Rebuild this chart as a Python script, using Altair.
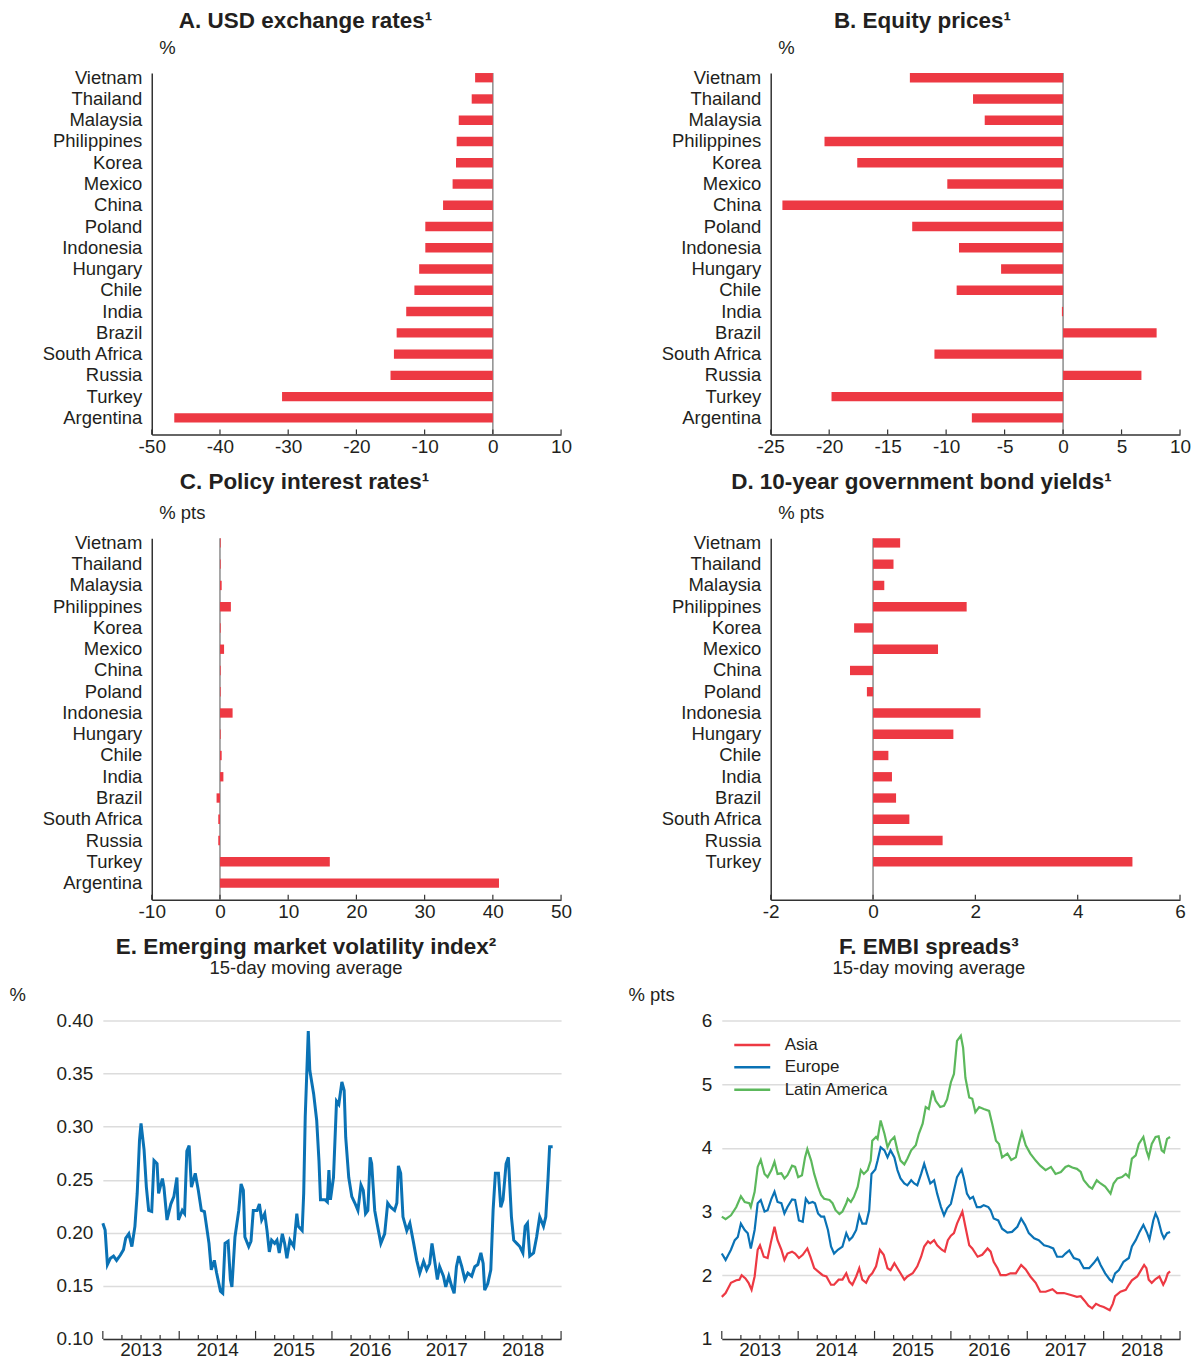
import altair as alt
import pandas as pd

FONT = "Liberation Sans"
TXT = "#231f20"
RED = "#ed3943"
BLUE = "#0a72b5"
GREEN = "#5cb85c"
AXC = "#333333"

# ---------------- bar panels data ----------------
countries = ["Vietnam", "Thailand", "Malaysia", "Philippines", "Korea", "Mexico", "China",
             "Poland", "Indonesia", "Hungary", "Chile", "India", "Brazil", "South Africa",
             "Russia", "Turkey", "Argentina"]
usd_fx = [-2.6, -3.1, -5.0, -5.3, -5.4, -5.9, -7.3, -9.9, -9.9, -10.8, -11.5, -12.7,
          -14.1, -14.5, -15.0, -30.9, -46.7]
equity = [-13.1, -7.7, -6.7, -20.4, -17.6, -9.9, -24.0, -12.9, -8.9, -5.3, -9.1, -0.1,
          8.0, -11.0, 6.7, -19.8, -7.8]
policy = [0.1, 0.1, 0.25, 1.6, 0.1, 0.6, 0.1, 0.1, 1.85, 0.1, 0.25, 0.5, -0.5, -0.25,
          -0.25, 16.1, 40.9]
bond10y = [0.53, 0.40, 0.22, 1.83, -0.37, 1.27, -0.45, -0.12, 2.10, 1.57, 0.30, 0.37,
           0.45, 0.71, 1.36, 5.07, None]

ticks_a = [-50, -40, -30, -20, -10, 0, 10]
ticks_b = [-25, -20, -15, -10, -5, 0, 5, 10]
ticks_c = [-10, 0, 10, 20, 30, 40, 50]
ticks_d = [-2, 0, 2, 4, 6]

# ---------------- E: EM volatility index ----------------
e_year = [2013.00, 2013.03, 2013.06, 2013.10, 2013.14, 2013.18, 2013.23, 2013.27, 2013.30, 2013.34,
          2013.38, 2013.42, 2013.45, 2013.48, 2013.50, 2013.54, 2013.57, 2013.60, 2013.64, 2013.67,
          2013.71, 2013.73, 2013.78, 2013.80, 2013.84, 2013.89, 2013.93, 2013.97, 2013.99, 2014.04,
          2014.07, 2014.10, 2014.13, 2014.16, 2014.21, 2014.25, 2014.29, 2014.33, 2014.39, 2014.42,
          2014.46, 2014.49, 2014.54, 2014.57, 2014.60, 2014.64, 2014.67, 2014.69, 2014.73, 2014.78,
          2014.81, 2014.84, 2014.86, 2014.91, 2014.94, 2014.97, 2015.02, 2015.05, 2015.08, 2015.12,
          2015.15, 2015.18, 2015.21, 2015.25, 2015.28, 2015.31, 2015.35, 2015.38, 2015.41, 2015.45,
          2015.50, 2015.54, 2015.56, 2015.61, 2015.63, 2015.65, 2015.69, 2015.71, 2015.76, 2015.80,
          2015.83, 2015.85, 2015.91, 2015.94, 2015.96, 2015.98, 2016.02, 2016.06, 2016.09, 2016.13,
          2016.16, 2016.18, 2016.22, 2016.26, 2016.30, 2016.34, 2016.38, 2016.41, 2016.44, 2016.47,
          2016.50, 2016.52, 2016.56, 2016.59, 2016.64, 2016.69, 2016.73, 2016.77, 2016.82, 2016.85,
          2016.87, 2016.90, 2016.93, 2016.98, 2017.02, 2017.07, 2017.11, 2017.15, 2017.20, 2017.24,
          2017.28, 2017.31, 2017.35, 2017.38, 2017.41, 2017.46, 2017.49, 2017.53, 2017.57, 2017.60,
          2017.63, 2017.66, 2017.70, 2017.74, 2017.78, 2017.83, 2017.87, 2017.91, 2017.95, 2017.98,
          2018.00, 2018.04, 2018.08, 2018.11, 2018.14, 2018.18, 2018.21, 2018.24, 2018.28, 2018.31,
          2018.35, 2018.38, 2018.42, 2018.46, 2018.50, 2018.53, 2018.56, 2018.59, 2018.64, 2018.68,
          2018.72, 2018.77, 2018.80, 2018.83, 2018.85, 2018.89]
e_val = [0.209, 0.2025, 0.170, 0.176, 0.178, 0.174, 0.179, 0.184, 0.195, 0.199,
         0.187, 0.206, 0.237, 0.287, 0.303, 0.278, 0.243, 0.221, 0.220, 0.268,
         0.265, 0.237, 0.251, 0.243, 0.212, 0.227, 0.234, 0.252, 0.212, 0.221,
         0.218, 0.277, 0.282, 0.243, 0.256, 0.240, 0.221, 0.220, 0.190, 0.165,
         0.174, 0.162, 0.145, 0.143, 0.190, 0.192, 0.156, 0.149, 0.196, 0.221,
         0.246, 0.240, 0.196, 0.187, 0.192, 0.221, 0.221, 0.227, 0.212, 0.218,
         0.202, 0.182, 0.193, 0.190, 0.193, 0.181, 0.199, 0.190, 0.176, 0.193,
         0.187, 0.218, 0.206, 0.202, 0.237, 0.309, 0.390, 0.353, 0.331, 0.306,
         0.268, 0.231, 0.231, 0.229, 0.259, 0.231, 0.252, 0.324, 0.321, 0.342,
         0.334, 0.290, 0.252, 0.234, 0.228, 0.221, 0.245, 0.240, 0.218, 0.221,
         0.271, 0.265, 0.221, 0.209, 0.190, 0.199, 0.228, 0.224, 0.221, 0.228,
         0.263, 0.256, 0.215, 0.202, 0.209, 0.190, 0.174, 0.162, 0.173, 0.165,
         0.171, 0.190, 0.171, 0.156, 0.168, 0.159, 0.149, 0.159, 0.149, 0.143,
         0.168, 0.178, 0.168, 0.156, 0.162, 0.159, 0.168, 0.170, 0.181, 0.171,
         0.146, 0.152, 0.165, 0.221, 0.256, 0.256, 0.224, 0.231, 0.265, 0.271,
         0.215, 0.193, 0.190, 0.187, 0.181, 0.206, 0.209, 0.178, 0.181, 0.196,
         0.215, 0.206, 0.215, 0.252, 0.281, 0.281]

# ---------------- F: EMBI spreads ----------------
f_asia_year = [2013.00, 2013.05, 2013.12, 2013.19, 2013.23, 2013.26, 2013.31, 2013.35, 2013.39, 2013.43,
               2013.47, 2013.50, 2013.55, 2013.60, 2013.64, 2013.69, 2013.73, 2013.78, 2013.82, 2013.86,
               2013.92, 2013.96, 2014.01, 2014.06, 2014.12, 2014.16, 2014.21, 2014.26, 2014.32, 2014.37,
               2014.43, 2014.47, 2014.53, 2014.58, 2014.63, 2014.67, 2014.71, 2014.76, 2014.80, 2014.84,
               2014.89, 2014.93, 2014.97, 2015.02, 2015.07, 2015.12, 2015.17, 2015.21, 2015.26, 2015.30,
               2015.34, 2015.39, 2015.43, 2015.50, 2015.56, 2015.61, 2015.65, 2015.70, 2015.73, 2015.78,
               2015.82, 2015.88, 2015.92, 2015.96, 2016.00, 2016.04, 2016.08, 2016.15, 2016.19, 2016.24,
               2016.28, 2016.35, 2016.41, 2016.48, 2016.52, 2016.56, 2016.61, 2016.65, 2016.72, 2016.78,
               2016.85, 2016.92, 2016.98, 2017.04, 2017.11, 2017.17, 2017.24, 2017.33, 2017.39, 2017.48,
               2017.57, 2017.65, 2017.70, 2017.75, 2017.80, 2017.85, 2017.90, 2017.95, 2018.00, 2018.05,
               2018.08, 2018.12, 2018.15, 2018.22, 2018.29, 2018.33, 2018.37, 2018.44, 2018.48, 2018.53,
               2018.56, 2018.59, 2018.63, 2018.68, 2018.73, 2018.78, 2018.81, 2018.84, 2018.87]
f_asia_val = [1.66, 1.72, 1.88, 1.92, 1.93, 2.00, 1.95, 1.88, 1.77, 1.98,
              2.40, 2.47, 2.29, 2.27, 2.50, 2.76, 2.55, 2.40, 2.24, 2.34,
              2.37, 2.34, 2.27, 2.32, 2.42, 2.29, 2.11, 2.06, 2.00, 1.98,
              1.85, 1.85, 1.93, 1.93, 2.03, 1.90, 1.85, 1.98, 2.11, 1.93,
              1.88, 1.98, 2.03, 2.14, 2.40, 2.32, 2.11, 2.08, 2.19, 2.11,
              2.03, 1.93, 1.98, 2.03, 2.14, 2.29, 2.45, 2.53, 2.50, 2.55,
              2.47, 2.40, 2.37, 2.55, 2.62, 2.66, 2.81, 3.00, 2.76, 2.47,
              2.42, 2.29, 2.32, 2.42, 2.37, 2.21, 2.11, 2.00, 2.00, 2.03,
              2.03, 2.16, 2.09, 1.98, 1.88, 1.74, 1.74, 1.78, 1.72, 1.72,
              1.69, 1.66, 1.67, 1.60, 1.52, 1.48, 1.55, 1.52, 1.50, 1.47,
              1.45, 1.55, 1.67, 1.74, 1.77, 1.85, 1.92, 1.98, 2.06, 2.16,
              2.11, 1.93, 1.88, 1.94, 1.98, 1.85, 1.92, 2.03, 2.06]

f_eur_year = [2013.00, 2013.05, 2013.12, 2013.17, 2013.21, 2013.25, 2013.30, 2013.34, 2013.38, 2013.43,
              2013.47, 2013.51, 2013.56, 2013.60, 2013.65, 2013.69, 2013.73, 2013.78, 2013.82, 2013.86,
              2013.92, 2013.96, 2014.01, 2014.06, 2014.10, 2014.14, 2014.19, 2014.22, 2014.26, 2014.30,
              2014.34, 2014.39, 2014.43, 2014.47, 2014.52, 2014.58, 2014.63, 2014.67, 2014.71, 2014.76,
              2014.80, 2014.84, 2014.89, 2014.93, 2014.96, 2015.01, 2015.04, 2015.08, 2015.13, 2015.17,
              2015.21, 2015.26, 2015.30, 2015.34, 2015.39, 2015.43, 2015.48, 2015.52, 2015.56, 2015.61,
              2015.65, 2015.69, 2015.73, 2015.78, 2015.82, 2015.87, 2015.91, 2015.95, 2016.00, 2016.04,
              2016.08, 2016.14, 2016.17, 2016.21, 2016.25, 2016.29, 2016.34, 2016.39, 2016.43, 2016.49,
              2016.52, 2016.56, 2016.62, 2016.67, 2016.74, 2016.80, 2016.87, 2016.92, 2016.97, 2017.02,
              2017.09, 2017.15, 2017.22, 2017.28, 2017.34, 2017.39, 2017.46, 2017.50, 2017.55, 2017.61,
              2017.68, 2017.74, 2017.81, 2017.87, 2017.92, 2017.96, 2018.02, 2018.08, 2018.11, 2018.15,
              2018.20, 2018.26, 2018.33, 2018.37, 2018.42, 2018.47, 2018.52, 2018.57, 2018.60, 2018.65,
              2018.68, 2018.71, 2018.76, 2018.79, 2018.83, 2018.87]
f_eur_val = [2.34, 2.24, 2.40, 2.55, 2.60, 2.81, 2.71, 2.66, 2.42, 2.71,
             3.13, 3.18, 3.00, 3.02, 3.20, 3.31, 3.15, 3.13, 2.97, 3.07,
             3.19, 3.18, 2.86, 2.84, 3.20, 3.13, 3.15, 3.13, 2.97, 2.92,
             2.92, 2.71, 2.45, 2.34, 2.40, 2.45, 2.66, 2.55, 2.60, 2.71,
             2.94, 2.81, 2.81, 3.02, 3.59, 3.66, 3.80, 4.01, 3.96, 3.85,
             3.96, 3.85, 3.65, 3.52, 3.44, 3.41, 3.49, 3.44, 3.41, 3.59,
             3.75, 3.59, 3.44, 3.49, 3.28, 3.07, 2.94, 3.05, 3.12, 3.33,
             3.54, 3.66, 3.52, 3.28, 3.20, 3.23, 3.07, 3.07, 3.10, 3.07,
             3.02, 2.89, 2.86, 2.73, 2.67, 2.68, 2.76, 2.89, 2.79, 2.66,
             2.58, 2.55, 2.47, 2.45, 2.42, 2.29, 2.29, 2.34, 2.39, 2.27,
             2.24, 2.11, 2.11, 2.19, 2.27, 2.16, 2.03, 1.93, 1.90, 2.03,
             2.08, 2.21, 2.27, 2.45, 2.55, 2.68, 2.79, 2.66, 2.56, 2.86,
             2.97, 2.89, 2.66, 2.58, 2.66, 2.68]

f_lat_year = [2013.00, 2013.05, 2013.12, 2013.19, 2013.25, 2013.30, 2013.36, 2013.38, 2013.43, 2013.47,
              2013.51, 2013.56, 2013.60, 2013.65, 2013.69, 2013.73, 2013.78, 2013.82, 2013.86, 2013.92,
              2013.96, 2014.00, 2014.05, 2014.09, 2014.12, 2014.17, 2014.21, 2014.26, 2014.30, 2014.34,
              2014.41, 2014.45, 2014.49, 2014.54, 2014.58, 2014.63, 2014.65, 2014.69, 2014.73, 2014.78,
              2014.82, 2014.86, 2014.91, 2014.95, 2014.97, 2015.02, 2015.04, 2015.08, 2015.13, 2015.17,
              2015.21, 2015.26, 2015.30, 2015.34, 2015.39, 2015.43, 2015.48, 2015.54, 2015.58, 2015.63,
              2015.67, 2015.71, 2015.76, 2015.80, 2015.86, 2015.91, 2015.95, 2016.00, 2016.04, 2016.08,
              2016.13, 2016.16, 2016.19, 2016.24, 2016.28, 2016.32, 2016.37, 2016.43, 2016.50, 2016.54,
              2016.59, 2016.63, 2016.67, 2016.74, 2016.79, 2016.85, 2016.89, 2016.93, 2016.98, 2017.04,
              2017.11, 2017.17, 2017.24, 2017.31, 2017.37, 2017.44, 2017.50, 2017.54, 2017.59, 2017.65,
              2017.70, 2017.74, 2017.81, 2017.85, 2017.91, 2017.96, 2018.02, 2018.09, 2018.13, 2018.18,
              2018.24, 2018.29, 2018.33, 2018.37, 2018.42, 2018.46, 2018.52, 2018.56, 2018.59, 2018.63,
              2018.68, 2018.72, 2018.76, 2018.79, 2018.83, 2018.87]
f_lat_val = [2.92, 2.88, 2.94, 3.07, 3.24, 3.15, 3.13, 3.07, 3.31, 3.70,
             3.81, 3.59, 3.54, 3.65, 3.78, 3.59, 3.60, 3.52, 3.57, 3.72,
             3.70, 3.54, 3.57, 3.85, 3.98, 3.80, 3.59, 3.39, 3.26, 3.20,
             3.18, 3.13, 3.02, 2.96, 3.00, 3.13, 3.20, 3.15, 3.23, 3.39,
             3.65, 3.59, 3.65, 3.80, 4.11, 4.17, 4.14, 4.43, 4.22, 4.01,
             4.11, 4.17, 3.96, 3.80, 3.74, 3.83, 3.96, 4.04, 4.22, 4.38,
             4.64, 4.61, 4.90, 4.74, 4.64, 4.66, 4.76, 5.03, 5.16, 5.68,
             5.76, 5.57, 5.10, 4.79, 4.77, 4.56, 4.64, 4.61, 4.58, 4.38,
             4.11, 4.06, 3.85, 3.91, 3.81, 3.85, 4.06, 4.24, 4.04, 3.91,
             3.80, 3.72, 3.65, 3.70, 3.59, 3.62, 3.70, 3.72, 3.69, 3.67,
             3.62, 3.49, 3.39, 3.36, 3.49, 3.44, 3.39, 3.28, 3.44, 3.52,
             3.54, 3.59, 3.54, 3.83, 3.88, 4.06, 4.17, 3.96, 3.85, 4.06,
             4.17, 4.18, 3.96, 3.93, 4.14, 4.17]

series_names = ["Asia", "Europe", "Latin America"]
year_ticks = [2013, 2014, 2015, 2016, 2017, 2018, 2019]
year_labels = [2013, 2014, 2015, 2016, 2017, 2018]
quarter_ticks = [y + q for y in range(2013, 2019) for q in (0.25, 0.5, 0.75)]
e_grid = [0.10, 0.15, 0.20, 0.25, 0.30, 0.35, 0.40]
f_grid = [1, 2, 3, 4, 5, 6]

PW = 459          # panel width (all panels share one column origin)
BAR_LEFT = 49     # bar panels start their x axis 49px right of the column origin
BH = 362
LH = 319
LBL = 18.5        # label font size
TCK = 19          # tick label font size
TTL = 22.5        # title font size


def bar_panel(title, unit, values, dom, ticks, dx, toff, hide_argentina=False):
    df = pd.DataFrame({"country": countries, "value": values})
    xsc = alt.Scale(domain=dom, nice=False, zero=False, range=[BAR_LEFT, PW])
    ysc = alt.Scale(domain=countries, paddingInner=0.56, paddingOuter=0.28, align=0)
    label_expr = "datum.label == 'Argentina' ? '' : datum.label" if hide_argentina else "datum.label"
    xaxis = alt.Axis(values=ticks, title=None, ticks=False, grid=False,
                     labelFontSize=TCK, labelColor=TXT, labelFont=FONT, labelPadding=3,
                     labelFlush=False, labelExpr="'' + datum.value",
                     domainColor=AXC, domainWidth=1.5)
    bars = alt.Chart(df).mark_bar(color=RED).encode(
        x=alt.X("value:Q", scale=xsc, axis=xaxis),
        y=alt.Y("country:N", scale=ysc, sort=countries,
                axis=alt.Axis(title=unit, titleAngle=0, titleAlign="left", titleX=7, titleY=-26,
                              titleBaseline="middle", titleFont=FONT, titleFontSize=LBL,
                              titleFontWeight="normal", titleColor=TXT,
                              labelFontSize=LBL, labelColor=TXT, labelFont=FONT, labelPadding=10,
                              ticks=False, domainColor=AXC, domainWidth=1.5, minExtent=143,
                              offset=-BAR_LEFT, labelExpr=label_expr)),
    )
    zero = alt.Chart(pd.DataFrame({"value": [0]})).mark_rule(color="#8c8c8c", strokeWidth=1.5).encode(
        x=alt.X("value:Q", scale=xsc, axis=xaxis))
    tk = alt.Chart(pd.DataFrame({"value": ticks})).mark_rule(color=AXC, strokeWidth=1.2).encode(
        x=alt.X("value:Q", scale=xsc, axis=xaxis), y=alt.value(BH), y2=alt.value(BH - 5))
    return alt.layer(zero, bars, tk).properties(
        width=PW, height=BH,
        title=alt.TitleParams(text=title, font=FONT, fontSize=TTL, fontWeight="bold", color=TXT,
                              anchor="middle", frame="group", dx=dx, offset=toff))


def x_time_axis():
    return alt.Axis(values=year_labels, format="d", labelOffset=38, ticks=False, grid=False,
                    title=None, labelFontSize=TCK, labelColor=TXT, labelFont=FONT, labelPadding=2,
                    labelFlush=False, domainColor=AXC, domainWidth=1.5)


def time_ticks(xsc):
    maj = alt.Chart(pd.DataFrame({"t": year_ticks})).mark_rule(color=AXC, strokeWidth=1.2).encode(
        x=alt.X("t:Q", scale=xsc, axis=x_time_axis()), y=alt.value(LH), y2=alt.value(LH - 8))
    mnr = alt.Chart(pd.DataFrame({"t": quarter_ticks})).mark_rule(color=AXC, strokeWidth=1.2).encode(
        x=alt.X("t:Q", scale=xsc, axis=x_time_axis()), y=alt.value(LH), y2=alt.value(LH - 4))
    return maj, mnr


def y_line_axis(unit, vals, fmt):
    return alt.Axis(values=vals, format=fmt, title=unit, titleAngle=0, titleAlign="left",
                    titleX=-94, titleY=-26, titleBaseline="middle", titleFont=FONT,
                    titleFontSize=LBL, titleFontWeight="normal", titleColor=TXT,
                    grid=True, gridColor="#dcdcdc", gridWidth=1.5, domain=False, ticks=False,
                    labelFontSize=TCK, labelColor=TXT, labelFont=FONT, labelPadding=10,
                    minExtent=94)


A = bar_panel("A. USD exchange rates¹", "%", usd_fx, [-50, 10], ticks_a, -26.5, 6)
B = bar_panel("B. Equity prices¹", "%", equity, [-25, 10], ticks_b, -28.5, 6)
C = bar_panel("C. Policy interest rates¹", "% pts", policy, [-10, 50], ticks_c, -27.5, 10)
D = bar_panel("D. 10-year government bond yields¹", "% pts", bond10y, [-2, 6], ticks_d, -29.5, 10,
              hide_argentina=True)

xsc_t = alt.Scale(domain=[2013, 2019], nice=False, zero=False)

e_df = pd.DataFrame({"t": e_year, "v": e_val})
e_line = alt.Chart(e_df).mark_line(color=BLUE, strokeWidth=3).encode(
    x=alt.X("t:Q", scale=xsc_t, axis=x_time_axis()),
    y=alt.Y("v:Q", scale=alt.Scale(domain=[0.10, 0.40], nice=False, zero=False),
            axis=y_line_axis("%", e_grid, ".2f")),
)
e_maj, e_mnr = time_ticks(xsc_t)
E = alt.layer(e_line, e_maj, e_mnr).properties(
    width=PW, height=LH,
    title=alt.TitleParams(text="E. Emerging market volatility index²",
                          subtitle="15-day moving average",
                          font=FONT, fontSize=TTL, fontWeight="bold", color=TXT,
                          subtitleFont=FONT, subtitleFontSize=LBL, subtitleColor=TXT,
                          subtitleFontWeight="normal", subtitlePadding=1,
                          anchor="middle", frame="group", dx=-26, offset=8))

f_df = pd.concat([
    pd.DataFrame({"t": f_asia_year, "v": f_asia_val, "s": series_names[0]}),
    pd.DataFrame({"t": f_eur_year, "v": f_eur_val, "s": series_names[1]}),
    pd.DataFrame({"t": f_lat_year, "v": f_lat_val, "s": series_names[2]}),
], ignore_index=True)
f_line = alt.Chart(f_df).mark_line(strokeWidth=2.2).encode(
    x=alt.X("t:Q", scale=xsc_t, axis=x_time_axis()),
    y=alt.Y("v:Q", scale=alt.Scale(domain=[1, 6], nice=False, zero=False),
            axis=y_line_axis("% pts", f_grid, "d")),
    color=alt.Color("s:N", scale=alt.Scale(domain=series_names, range=[RED, BLUE, GREEN]),
                    legend=alt.Legend(orient="none", legendX=22, legendY=16, title=None,
                                      symbolType="M-3,0H3", symbolSize=144, symbolStrokeWidth=2.5,
                                      labelFontSize=17, labelFont=FONT, labelColor=TXT,
                                      labelOffset=24, rowPadding=4.5, padding=0)),
)
f_maj, f_mnr = time_ticks(xsc_t)
F = alt.layer(f_line, f_maj, f_mnr).properties(
    width=PW, height=LH,
    title=alt.TitleParams(text="F. EMBI spreads³",
                          subtitle="15-day moving average",
                          font=FONT, fontSize=TTL, fontWeight="bold", color=TXT,
                          subtitleFont=FONT, subtitleFontSize=LBL, subtitleColor=TXT,
                          subtitleFontWeight="normal", subtitlePadding=1,
                          anchor="middle", frame="group", dx=-22, offset=8))

row1 = alt.hconcat(A, B, spacing=161, bounds="flush")
row2 = alt.hconcat(C, D, spacing=161, bounds="flush")
row3 = alt.hconcat(E, F, spacing=161, bounds="flush").resolve_scale(color="independent")

chart = alt.vconcat(row1, row2, row3, spacing=14).resolve_scale(color="independent").properties(
    padding={"left": 1, "top": 0, "right": 0, "bottom": 0}
).configure(font=FONT).configure_view(strokeWidth=0)

chart.save("out.html", embed_options={"renderer": "svg", "actions": False})
